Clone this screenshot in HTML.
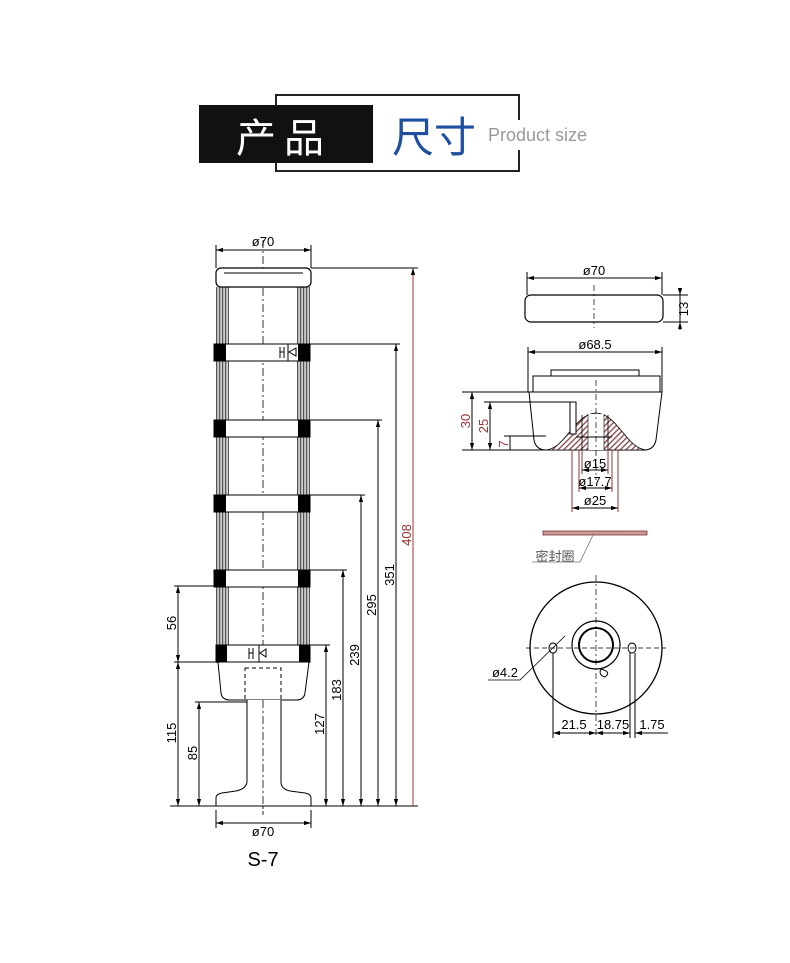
<!DOCTYPE html>
<html><head><meta charset="utf-8"><style>body{margin:0;background:#fff}svg{display:block}</style></head><body>
<svg width="790" height="963" viewBox="0 0 790 963" xmlns="http://www.w3.org/2000/svg" font-family="Liberation Sans, sans-serif">
<defs>
<marker id="a" viewBox="0 0 10 10" refX="10" refY="5" markerWidth="7" markerHeight="7" orient="auto-start-reverse"><path d="M0,2 L10,5 L0,8z" fill="#000"/></marker>
<pattern id="rib" width="3" height="4" patternUnits="userSpaceOnUse"><rect width="3" height="4" fill="#ccc"/><rect width="1.2" height="4" fill="#555"/></pattern>
<pattern id="h" width="4" height="4" patternUnits="userSpaceOnUse" patternTransform="rotate(45)"><rect width="4" height="4" fill="#fff"/><rect width="1.3" height="4" fill="#844"/></pattern>
</defs>
<!-- header -->
<path d="M276,105 V95 H519 V120 M519,150 V171 H276 V163" fill="none" stroke="#222" stroke-width="2"/>
<rect x="199" y="105" width="174" height="58" fill="#111"/>
<text x="236" y="152" font-size="40" fill="#fff" font-family="Liberation Sans, Noto Sans CJK SC, sans-serif" letter-spacing="8">产品</text>
<text x="392" y="152" font-size="42" fill="#1f4fa0" font-family="Liberation Sans, Noto Sans CJK SC, sans-serif">尺寸</text>
<text x="488" y="141" font-size="18" fill="#999">Product size</text>

<g stroke="#000" stroke-width="1" fill="none">
<!-- tower -->
<rect x="216" y="287" width="13" height="376" fill="url(#rib)" stroke="none"/>
<rect x="297" y="287" width="13" height="376" fill="url(#rib)" stroke="none"/>
<line x1="263" y1="240" x2="263" y2="815" stroke-dasharray="8,3,2,3" stroke-width="0.8"/>
<rect x="216" y="268" width="95" height="19" rx="5" fill="#fff" stroke-width="1.2"/>
<line x1="224" y1="273" x2="303" y2="273"/>
<g fill="#fff">
<rect x="214" y="344" width="96" height="17"/><rect x="214" y="420" width="96" height="17"/><rect x="214" y="495" width="96" height="17"/><rect x="214" y="570" width="96" height="17"/><rect x="216" y="645" width="94" height="17"/>
</g>
<g fill="#000" stroke="none">
<rect x="214" y="344" width="12" height="17"/><rect x="298" y="344" width="12" height="17"/>
<rect x="214" y="420" width="12" height="17"/><rect x="298" y="420" width="12" height="17"/>
<rect x="214" y="495" width="12" height="17"/><rect x="298" y="495" width="12" height="17"/>
<rect x="214" y="570" width="12" height="17"/><rect x="298" y="570" width="12" height="17"/>
<rect x="216" y="645" width="11" height="17"/><rect x="299" y="645" width="11" height="17"/>
</g>
<path d="M280,347 V358 M284,347 V358 M280,352 H284 M288,344 V361 M296,348 L289,352 L296,356z"/>
<path d="M249,648 V659 M253,648 V659 M249,653 H253 M259,645 V662 M266,649 L260,653 L266,657z"/>
<path d="M218,662 H309 L305,693 Q304,700 296,700 H230 Q222,700 221,693 Z" fill="#fff"/>
<rect x="245" y="668" width="36" height="32" stroke-dasharray="4,3"/>
<path d="M247,700 V782 Q246,789 236,791 L222,793 Q216,794 216,798 V806 H311 V798 Q311,794 305,793 L290,791 Q281,789 281,782 V700" fill="#fff"/>
<line x1="263" y1="700" x2="263" y2="815" stroke-dasharray="8,3,2,3" stroke-width="0.8"/>
<!-- dims left -->
<line x1="170" y1="806" x2="418" y2="806"/>
<line x1="216" y1="245" x2="216" y2="268"/><line x1="311" y1="245" x2="311" y2="268"/>
<line x1="216" y1="250" x2="311" y2="250" marker-start="url(#a)" marker-end="url(#a)"/>
<line x1="216" y1="810" x2="216" y2="828"/><line x1="311" y1="810" x2="311" y2="828"/>
<line x1="216" y1="823" x2="311" y2="823" marker-start="url(#a)" marker-end="url(#a)"/>
<line x1="311" y1="268" x2="418" y2="268"/><line x1="413" y1="806" x2="413" y2="268" marker-end="url(#a)" stroke="#a33"/>
<line x1="310" y1="344" x2="400" y2="344"/><line x1="396" y1="806" x2="396" y2="344" marker-start="url(#a)" marker-end="url(#a)"/>
<line x1="310" y1="420" x2="382" y2="420"/><line x1="378" y1="806" x2="378" y2="420" marker-start="url(#a)" marker-end="url(#a)"/>
<line x1="310" y1="495" x2="365" y2="495"/><line x1="361" y1="806" x2="361" y2="495" marker-start="url(#a)" marker-end="url(#a)"/>
<line x1="310" y1="570" x2="347" y2="570"/><line x1="343" y1="806" x2="343" y2="570" marker-start="url(#a)" marker-end="url(#a)"/>
<line x1="310" y1="645" x2="330" y2="645"/><line x1="326" y1="806" x2="326" y2="645" marker-start="url(#a)" marker-end="url(#a)"/>
<line x1="174" y1="586" x2="216" y2="586"/><line x1="174" y1="662" x2="216" y2="662"/>
<line x1="178" y1="586" x2="178" y2="662" marker-start="url(#a)" marker-end="url(#a)"/>
<line x1="178" y1="662" x2="178" y2="806" marker-start="url(#a)" marker-end="url(#a)"/>
<line x1="195" y1="702" x2="247" y2="702"/>
<line x1="199" y1="702" x2="199" y2="806" marker-start="url(#a)" marker-end="url(#a)"/>

<!-- right cap -->
<rect x="525" y="295" width="138" height="27" rx="6" fill="#fff" stroke-width="1.2"/>
<line x1="594" y1="285" x2="594" y2="328" stroke-dasharray="6,3,2,3" stroke-width="0.7"/>
<line x1="527" y1="272" x2="527" y2="295"/><line x1="662" y1="272" x2="662" y2="295"/>
<line x1="527" y1="278" x2="662" y2="278" marker-start="url(#a)" marker-end="url(#a)"/>
<line x1="663" y1="295" x2="688" y2="295"/><line x1="663" y1="322" x2="688" y2="322"/>
<line x1="680" y1="288" x2="680" y2="295" marker-end="url(#a)"/><line x1="680" y1="330" x2="680" y2="322" marker-end="url(#a)"/><line x1="680" y1="295" x2="680" y2="322"/>
<!-- base part -->
<line x1="528" y1="347" x2="528" y2="392"/><line x1="662" y1="347" x2="662" y2="392"/>
<line x1="528" y1="352" x2="662" y2="352" marker-start="url(#a)" marker-end="url(#a)"/>
<rect x="551" y="370" width="88" height="6"/>
<rect x="533" y="376" width="127" height="16"/>
<path d="M529,392 H662 L656,440 Q654,450 644,450 H546 Q536,450 534,440 Z" fill="#fff"/>
<path d="M546,450 C566,448 574,414 596,413 C618,414 626,448 646,450 Z" fill="url(#h)" stroke-width="0.8"/>
<rect x="588" y="414" width="16" height="36" fill="#fff" stroke="none"/>
<line x1="582" y1="415" x2="582" y2="450" stroke-width="0.8"/><line x1="608" y1="415" x2="608" y2="450" stroke-width="0.8"/>
<line x1="588" y1="414" x2="588" y2="450" stroke-width="0.6"/><line x1="604" y1="414" x2="604" y2="450" stroke-width="0.6"/>
<line x1="576" y1="437" x2="612" y2="437"/>
<rect x="570" y="402" width="6" height="32" fill="#fff"/>
<line x1="596" y1="380" x2="596" y2="480" stroke-dasharray="6,3,2,3" stroke-width="0.7"/>
<g stroke="#933">
<line x1="462" y1="392" x2="529" y2="392" stroke="#000"/><line x1="484" y1="402" x2="570" y2="402" stroke="#000"/><line x1="504" y1="436" x2="546" y2="436" stroke="#000"/>
<line x1="462" y1="450" x2="546" y2="450" stroke="#000"/>
<line x1="472" y1="392" x2="472" y2="450" marker-start="url(#a)" marker-end="url(#a)" stroke="#000"/>
<line x1="490" y1="402" x2="490" y2="450" marker-start="url(#a)" marker-end="url(#a)" stroke="#000"/>
<line x1="510" y1="436" x2="510" y2="450" stroke="#000"/>
<line x1="582" y1="450" x2="582" y2="474"/><line x1="608" y1="450" x2="608" y2="474"/>
<line x1="579" y1="450" x2="579" y2="492"/><line x1="612" y1="450" x2="612" y2="492"/>
<line x1="572" y1="450" x2="572" y2="512"/><line x1="618" y1="450" x2="618" y2="512"/>
</g>
<line x1="582" y1="470" x2="608" y2="470" marker-start="url(#a)" marker-end="url(#a)"/>
<line x1="579" y1="488" x2="612" y2="488" marker-start="url(#a)" marker-end="url(#a)"/>
<line x1="572" y1="508" x2="618" y2="508" marker-start="url(#a)" marker-end="url(#a)"/>
<!-- gasket -->
<rect x="543" y="531" width="104" height="4" fill="#c99" stroke="#733" stroke-width="0.8"/>
<path d="M594,533 L580,562 H532" stroke="#777" stroke-width="0.8"/>
<!-- disc -->
<circle cx="596" cy="648" r="66" stroke-width="1.3"/>
<circle cx="596" cy="645" r="24" stroke-width="1.2"/>
<circle cx="596" cy="645" r="17" stroke-width="2"/>
<path d="M601,669 Q612,672 605,677 Q598,675 601,669z"/>
<ellipse cx="553" cy="648" rx="4" ry="5"/><ellipse cx="632" cy="648" rx="4" ry="5"/>
<line x1="526" y1="648" x2="666" y2="648" stroke-dasharray="5,3" stroke-width="0.7"/>
<line x1="596" y1="575" x2="596" y2="735" stroke-dasharray="6,3,2,3" stroke-width="0.7"/>
<path d="M565,636 L520,680 H488" stroke-width="0.8"/>
<line x1="553" y1="653" x2="553" y2="738"/><line x1="630" y1="653" x2="630" y2="738"/><line x1="635" y1="653" x2="635" y2="738"/>
<line x1="553" y1="733" x2="596" y2="733" marker-start="url(#a)" marker-end="url(#a)"/>
<line x1="596" y1="733" x2="630" y2="733" marker-start="url(#a)" marker-end="url(#a)"/>
<line x1="635" y1="733" x2="668" y2="733" marker-start="url(#a)"/>
</g>
<g font-size="13" fill="#000" text-anchor="middle">
<text x="263" y="246">ø70</text>
<text x="263" y="836">ø70</text>
<text x="263" y="866" font-size="20">S-7</text>
<text x="594" y="275">ø70</text>
<text x="595" y="349">ø68.5</text>
<text x="595" y="468">ø15</text>
<text x="595" y="486">ø17.7</text>
<text x="595" y="505">ø25</text>
<text x="505" y="677">ø4.2</text>
<text x="574" y="729">21.5</text>
<text x="613" y="729">18.75</text>
<text x="652" y="729">1.75</text>
<text x="555" y="561" fill="#555" font-family="Liberation Sans, Noto Sans CJK SC, sans-serif">密封圈</text>
<text transform="translate(176,623) rotate(-90)">56</text>
<text transform="translate(176,733) rotate(-90)">115</text>
<text transform="translate(197,753) rotate(-90)">85</text>
<text transform="translate(324,724) rotate(-90)">127</text>
<text transform="translate(341,690) rotate(-90)">183</text>
<text transform="translate(359,655) rotate(-90)">239</text>
<text transform="translate(376,605) rotate(-90)">295</text>
<text transform="translate(394,575) rotate(-90)">351</text>
<text transform="translate(411,535) rotate(-90)" fill="#933">408</text>
<text transform="translate(470,421) rotate(-90)" fill="#933">30</text>
<text transform="translate(488,426) rotate(-90)" fill="#933">25</text>
<text transform="translate(508,444) rotate(-90)" fill="#933">7</text>
<text transform="translate(688,309) rotate(-90)">13</text>
</g>
</svg>
</body></html>
